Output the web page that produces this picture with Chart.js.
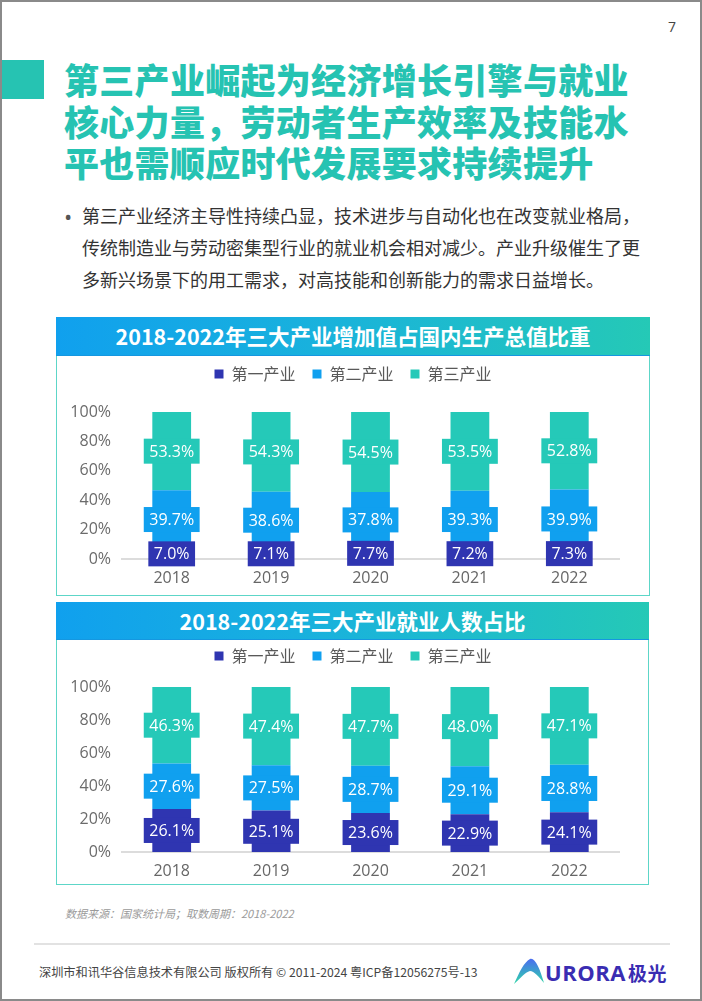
<!DOCTYPE html>
<html>
<head>
<meta charset="utf-8">
<script src="https://cdn.jsdelivr.net/npm/chart.js@4.4.0/dist/chart.umd.min.js"></script>
<style>
  html, body { margin: 0; padding: 0; background: #fff; }
  #page {
    position: relative; width: 702px; height: 1001px; overflow: hidden;
    border: 2px solid #8a8a8a; box-sizing: border-box;
    font-family: "Noto Sans CJK SC", "Noto Sans", sans-serif; color: #333;
  }
  .abs { position: absolute; }
  .pageno { left: 666px; top: 15px; font: 14px "Open Sans", sans-serif; color: #444; }
  .tealblock { left: 0; top: 58px; width: 42px; height: 39px; background: #26c3b2; }
  .title {
    left: 62px; top: 56px; font-size: 35px; font-weight: 900; line-height: 41.5px;
    color: #26c3b2; letter-spacing: 0.3px; white-space: nowrap;
  }
  .bullet { left: 80px; top: 197px; font-size: 18px; line-height: 32px; color: #333; white-space: nowrap; }
  .dot { left: 62px; top: 198px; font: 22px/32px "Open Sans", sans-serif; color: #555; }
  .box { border: 1.5px solid #5dd6c8; box-sizing: border-box; background: #fff; }
  .head {
    color: #fff; font-weight: 700; font-size: 21.5px; text-align: center;
    background: linear-gradient(90deg, #10a0ee 0%, #19b2dc 45%, #25c9b6 100%);
    border-bottom: 1px solid #1597e0; box-sizing: border-box;
  }
  canvas { position: absolute; }
  .source { left: 63px; top: 903px; font-size: 11px; font-style: italic; color: #9a9a9a; }
  .rule { left: 32px; top: 941px; width: 636px; height: 1.5px; background: #e2e2e2; }
  .foot { left: 37px; top: 961px; font-size: 12.2px; color: #444; white-space: nowrap; }
  .logo { left: 543px; top: 955px; font: 700 22px "Open Sans", sans-serif; color: #3a2db2; letter-spacing: 0.5px; }
  .logo span { font-family: "Noto Sans CJK SC", sans-serif; font-size: 19px; margin-left: 2px; }
</style>
</head>
<body>
<div id="page">
  <div class="abs pageno">7</div>
  <div class="abs tealblock"></div>
  <div class="abs title">第三产业崛起为经济增长引擎与就业<br>核心力量，劳动者生产效率及技能水<br>平也需顺应时代发展要求持续提升</div>
  <div class="abs dot">•</div>
  <div class="abs bullet">第三产业经济主导性持续凸显，技术进步与自动化也在改变就业格局，<br>传统制造业与劳动密集型行业的就业机会相对减少。产业升级催生了更<br>多新兴场景下的用工需求，对高技能和创新能力的需求日益增长。</div>

  <div class="abs box" style="left:54px; top:315px; width:594px; height:279px;"></div>
  <div class="abs head" style="left:54px; top:315px; width:594px; height:39px; line-height:38px;">2018-2022年三大产业增加值占国内生产总值比重</div>
  <canvas id="gdpChart" width="592" height="245" style="left:55px; top:347px;"></canvas>

  <div class="abs box" style="left:54px; top:600px; width:593px; height:283px;"></div>
  <div class="abs head" style="left:54px; top:600px; width:593px; height:38px; line-height:37px;">2018-2022年三大产业就业人数占比</div>
  <canvas id="jobChart" width="592" height="254" style="left:55px; top:629px;"></canvas>

  <div class="abs source">数据来源：国家统计局；取数周期：2018-2022</div>
  <div class="abs rule"></div>
  <div class="abs foot">深圳市和讯华谷信息技术有限公司 版权所有 © 2011-2024 粤ICP备12056275号-13</div>
  <svg class="abs" style="left:511px; top:955px;" width="32" height="28" viewBox="0 0 32 28">
    <defs>
      <linearGradient id="lg" x1="0" y1="0" x2="0" y2="1">
        <stop offset="0" stop-color="#4a6cf0"/>
        <stop offset="1" stop-color="#2fd6a8"/>
      </linearGradient>
    </defs>
    <path d="M1 27 C6 16 11 5 17 2 C22 0 27 12 31 26 C26 20 21 14 17 14 C12 15 7 22 1 27 Z" fill="url(#lg)"/>
  </svg>
  <div class="abs logo">URORA<span>极光</span></div>
</div>

<script>
// categories and series
const years = ["2018", "2019", "2020", "2021", "2022"];
const seriesNames = ["第一产业", "第二产业", "第三产业"];
const seriesColors = ["#2f35b1", "#10a0ef", "#25c9b8"];

// share of GDP (%)
const gdpPrimary = [7.0, 7.1, 7.7, 7.2, 7.3];
const gdpSecondary = [39.7, 38.6, 37.8, 39.3, 39.9];
const gdpTertiary = [53.3, 54.3, 54.5, 53.5, 52.8];

// share of employment (%)
const jobPrimary = [26.1, 25.1, 23.6, 22.9, 24.1];
const jobSecondary = [27.6, 27.5, 28.7, 29.1, 28.8];
const jobTertiary = [46.3, 47.4, 47.7, 48.0, 47.1];

const numFont = '"Open Sans", "Noto Sans", sans-serif';

// draws the value boxes on each bar segment
const valueBoxes = {
    id: "valueBoxes",
    afterDatasetsDraw(chart) {
        const ctx = chart.ctx;
        ctx.save();
        ctx.font = "16px " + numFont;
        ctx.textAlign = "center";
        ctx.textBaseline = "middle";
        chart.data.datasets.forEach((ds, i) => {
            const meta = chart.getDatasetMeta(i);
            meta.data.forEach((bar, j) => {
                const txt = ds.data[j].toFixed(1) + "%";
                const cy = (bar.y + bar.base) / 2;
                const w = ctx.measureText(txt).width + 11;
                ctx.fillStyle = ds.backgroundColor;
                ctx.fillRect(bar.x - w / 2, cy - 12.5, w, 25);
                ctx.fillStyle = "#ffffff";
                ctx.fillText(txt, bar.x, cy + 1);
            });
        });
        ctx.restore();
    },
};

function makeChart(id, values, legendGap, padBottom) {
    // extra room under the legend, and legend centred on the box
    const legendTweak = {
        id: "legendTweak",
        beforeInit(chart) {
            const fit = chart.legend.fit;
            chart.legend.fit = function () {
                fit.bind(chart.legend)();
                this.height += legendGap;
            };
        },
        afterLayout(chart) {
            chart.legend.left += 15;
            chart.legend.right += 15;
        },
    };
    const ctx = document.getElementById(id).getContext("2d");
    return new Chart(ctx, {
        type: "bar",
        data: {
            labels: years,
            datasets: values.map((v, i) => ({
                label: seriesNames[i],
                data: v,
                backgroundColor: seriesColors[i],
                borderWidth: 0,
                barPercentage: 0.39,
                categoryPercentage: 1,
            })),
        },
        options: {
            responsive: false,
            animation: false,
            layout: { padding: { left: 0, right: 30, top: 0, bottom: padBottom } },
            plugins: {
                tooltip: { enabled: false },
                legend: {
                    position: "top",
                    labels: {
                        boxWidth: 9,
                        boxHeight: 9,
                        padding: 17,
                        color: "#595959",
                        font: { size: 16, family: '"Noto Sans CJK SC", sans-serif' },
                    },
                },
            },
            scales: {
                x: {
                    stacked: true,
                    grid: { display: false, drawTicks: false },
                    border: { display: true, color: "#dcdcdc", width: 2 },
                    ticks: { color: "#666", padding: 10, font: { size: 16, family: numFont } },
                    afterFit(scale) {
                        scale.height = 30;
                    },
                },
                y: {
                    stacked: true,
                    min: 0,
                    max: 100,
                    grid: { display: false, drawTicks: false },
                    border: { display: false },
                    ticks: {
                        stepSize: 20,
                        color: "#6b6b6b",
                        padding: 11,
                        font: { size: 16, family: numFont },
                        callback: (v) => v + "%",
                    },
                    afterFit(scale) {
                        scale.width = 65;
                    },
                },
            },
        },
        plugins: [legendTweak, valueBoxes],
    });
}

makeChart("gdpChart", [gdpPrimary, gdpSecondary, gdpTertiary], 20, 5);
makeChart("jobChart", [jobPrimary, jobSecondary, jobTertiary], 13, 3);
</script>
</body>
</html>
